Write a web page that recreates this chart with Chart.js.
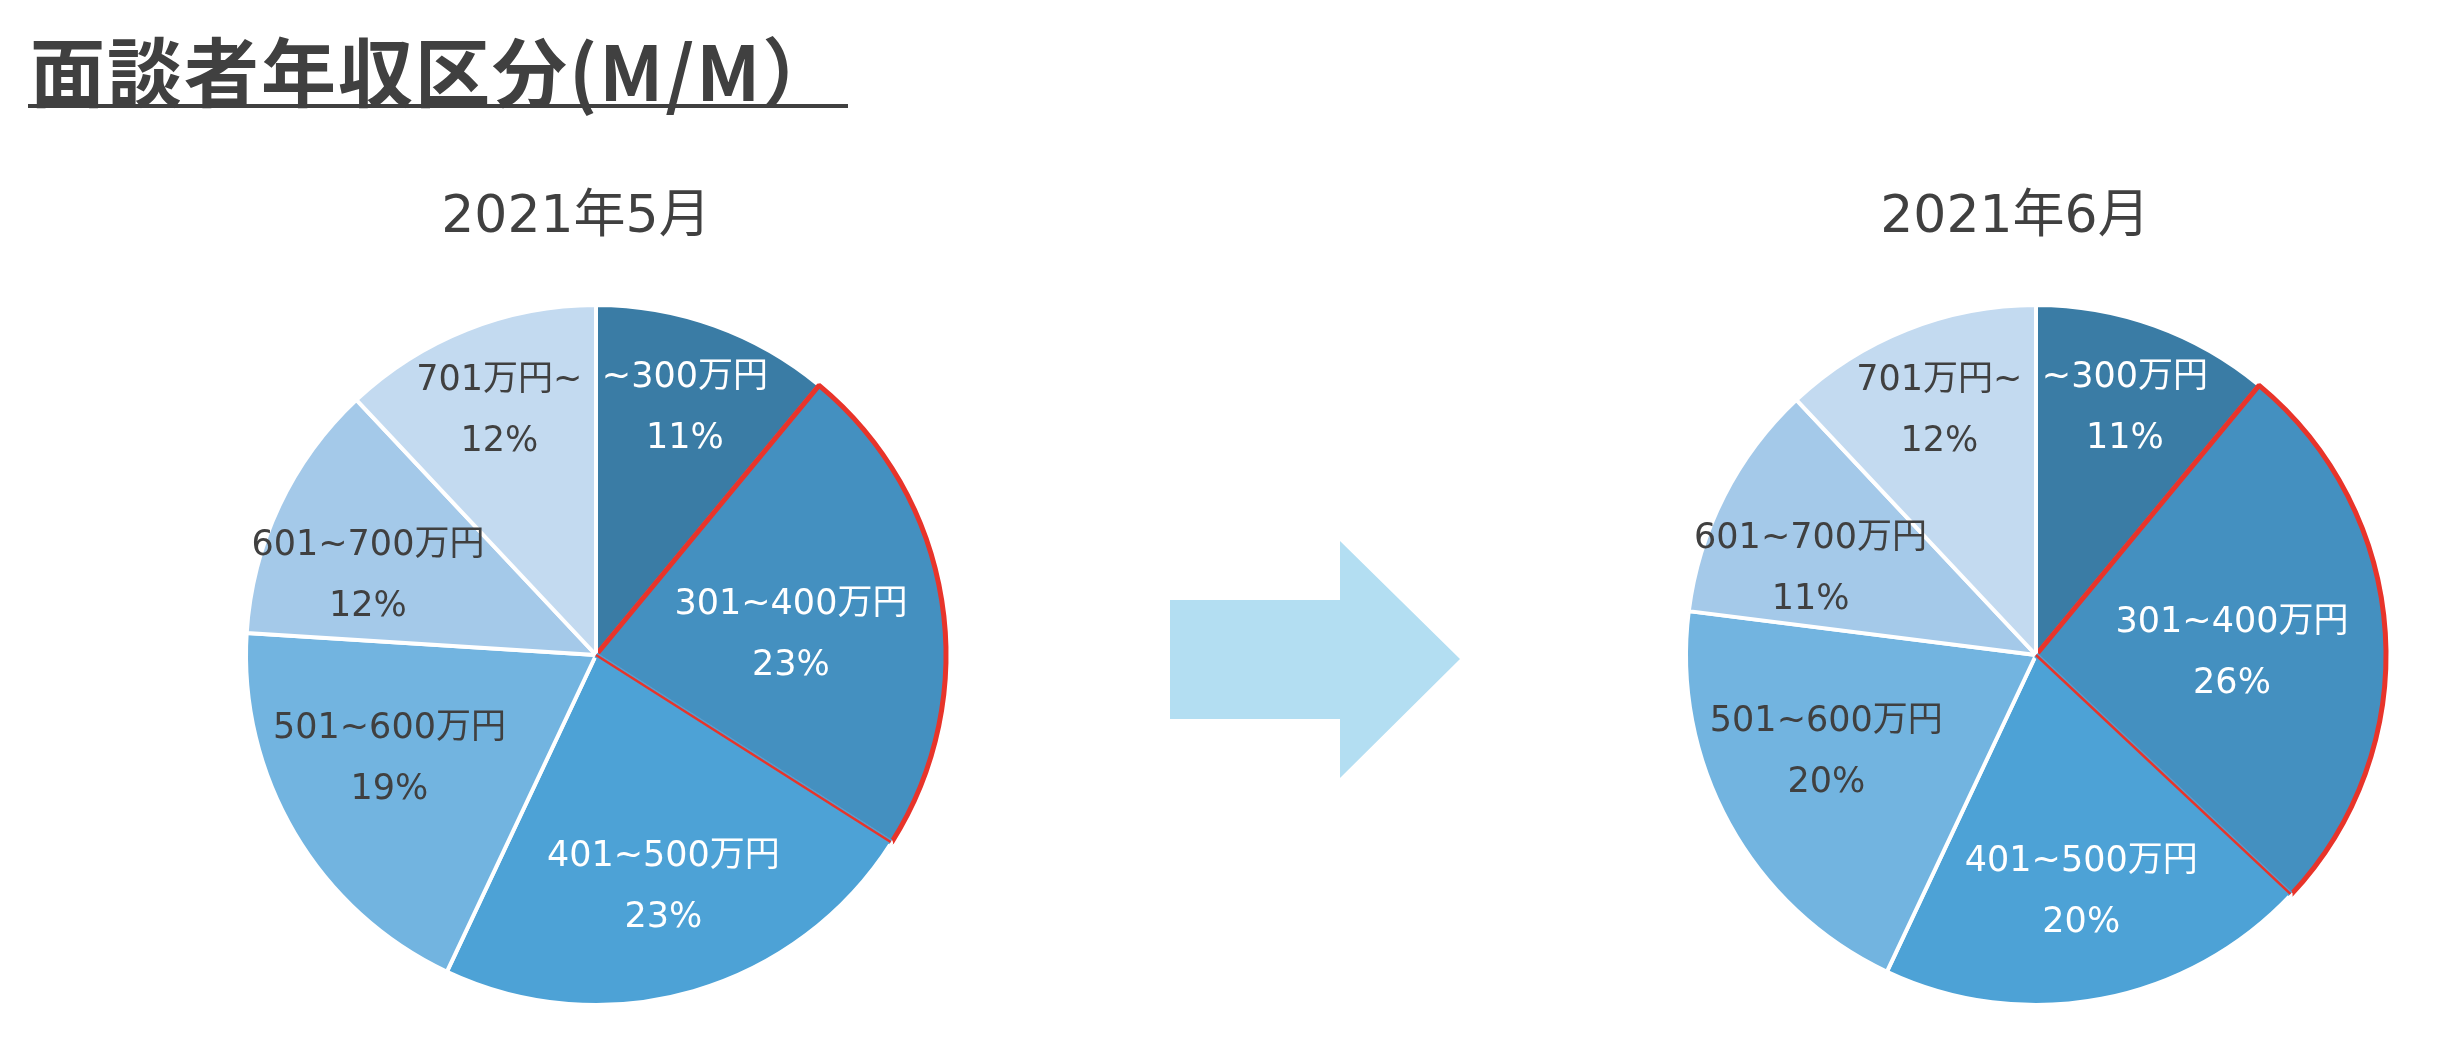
<!DOCTYPE html>
<html lang="ja">
<head>
<meta charset="utf-8">
<script src="https://cdn.jsdelivr.net/npm/chart.js@4.4.1/dist/chart.umd.min.js"></script>
<style>
  body { margin: 0; background: #fff; width: 2438px; height: 1042px; position: relative; overflow: hidden; }
  .page-title {
    position: absolute; left: 30px; top: 31px;
    font: 700 75px "Noto Sans CJK JP", sans-serif; line-height: 1; color: #404040;
    letter-spacing: 2px; white-space: nowrap;
  }
  .title-rule { position: absolute; left: 28px; top: 104px; width: 820px; height: 4px; background: #404040; }
  .chart-caption {
    position: absolute; top: 188px; width: 600px; text-align: center;
    font: 400 52px "DejaVu Sans", "Noto Sans CJK JP", sans-serif; line-height: 1; color: #404040;
  }
  canvas { position: absolute; }
  svg { position: absolute; left: 0; top: 0; }
</style>
</head>
<body>
<div class="page-title">面談者年収区分(M/M）</div>
<div class="title-rule"></div>
<div class="chart-caption" id="captionMay" style="left: 276px;"></div>
<div class="chart-caption" id="captionJun" style="left: 1715px;"></div>

<svg width="2438" height="1042">
  <polygon points="1170,600 1340,600 1340,541 1460,659 1340,778 1340,719 1170,719" fill="#b3def2" />
</svg>

<canvas id="mayChart" width="760" height="760" style="left: 216px; top: 275px;"></canvas>
<canvas id="junChart" width="760" height="760" style="left: 1656px; top: 275px;"></canvas>

<script>
// data
const categories = ["~300万円", "301~400万円", "401~500万円", "501~600万円", "601~700万円", "701万円~"];
const mayValues = [11, 23, 23, 19, 12, 12];
const junValues = [11, 26, 20, 20, 11, 12];
const captions = ["2021年5月", "2021年6月"];

// styles
const sliceColors = ["#3a7ca5", "#4490c0", "#4da2d6", "#72b4e0", "#a4c9e9", "#c3daf0"];
const sliceBorders = ["#ffffff", "#e8342a", "#ffffff", "#ffffff", "#ffffff", "#ffffff"];
const sliceBorderWidths = [4, 5, 4, 4, 4, 4];
const labelColors = ["#ffffff", "#ffffff", "#ffffff", "#404040", "#404040", "#404040"];
const labelRadius = [0.75, 0.56, 0.69, 0.66, 0.69, 0.75];
const labelAngleShift = [0, 3, 0, 4, -6, 0]; // degrees, clockwise

document.getElementById("captionMay").textContent = captions[0];
document.getElementById("captionJun").textContent = captions[1];

// highlighted slice: thin red line on its closing edge, then all labels
const sliceLabels = {
  id: "sliceLabels",
  afterDatasetsDraw(chart) {
    const ctx = chart.ctx;
    const meta = chart.getDatasetMeta(0);
    const values = chart.data.datasets[0].data;
    ctx.save();
    meta.data.forEach((arc, i) => {
      if (sliceBorders[i] === "#ffffff") return;
      const p = arc.getProps(["x", "y", "endAngle", "outerRadius"], true);
      const ex = p.x + Math.cos(p.endAngle) * (p.outerRadius - 1);
      const ey = p.y + Math.sin(p.endAngle) * (p.outerRadius - 1);
      // clean up the wide border + white seam, then a thin red edge
      ctx.strokeStyle = sliceColors[(i + 1) % sliceColors.length];
      ctx.lineWidth = 5.5;
      ctx.beginPath();
      ctx.moveTo(p.x, p.y);
      ctx.lineTo(ex, ey);
      ctx.stroke();
      ctx.strokeStyle = sliceBorders[i];
      ctx.lineWidth = 2.5;
      ctx.beginPath();
      ctx.moveTo(p.x, p.y);
      ctx.lineTo(ex, ey);
      ctx.stroke();
    });
    ctx.font = '35px "DejaVu Sans", "Noto Sans CJK JP", sans-serif';
    ctx.textAlign = "center";
    ctx.textBaseline = "middle";
    meta.data.forEach((arc, i) => {
      const p = arc.getProps(["x", "y", "startAngle", "endAngle", "outerRadius"], true);
      const mid = (p.startAngle + p.endAngle) / 2 + (labelAngleShift[i] * Math.PI) / 180;
      const r = p.outerRadius * labelRadius[i];
      const x = p.x + Math.cos(mid) * r;
      const y = p.y + Math.sin(mid) * r;
      ctx.fillStyle = labelColors[i];
      ctx.fillText(chart.data.labels[i], x, y - 30);
      ctx.fillText(values[i] + "%", x, y + 31);
    });
    ctx.restore();
  },
};

function makePie(id, values) {
  return new Chart(document.getElementById(id), {
    type: "pie",
    data: {
      labels: categories,
      datasets: [
        {
          data: values,
          backgroundColor: sliceColors,
          borderColor: sliceBorders,
          borderWidth: sliceBorderWidths,
        },
      ],
    },
    options: {
      responsive: false,
      animation: false,
      radius: 350,
      plugins: {
        legend: { display: false },
        tooltip: { enabled: false },
      },
    },
    plugins: [sliceLabels],
  });
}

makePie("mayChart", mayValues);
makePie("junChart", junValues);
</script>
</body>
</html>
